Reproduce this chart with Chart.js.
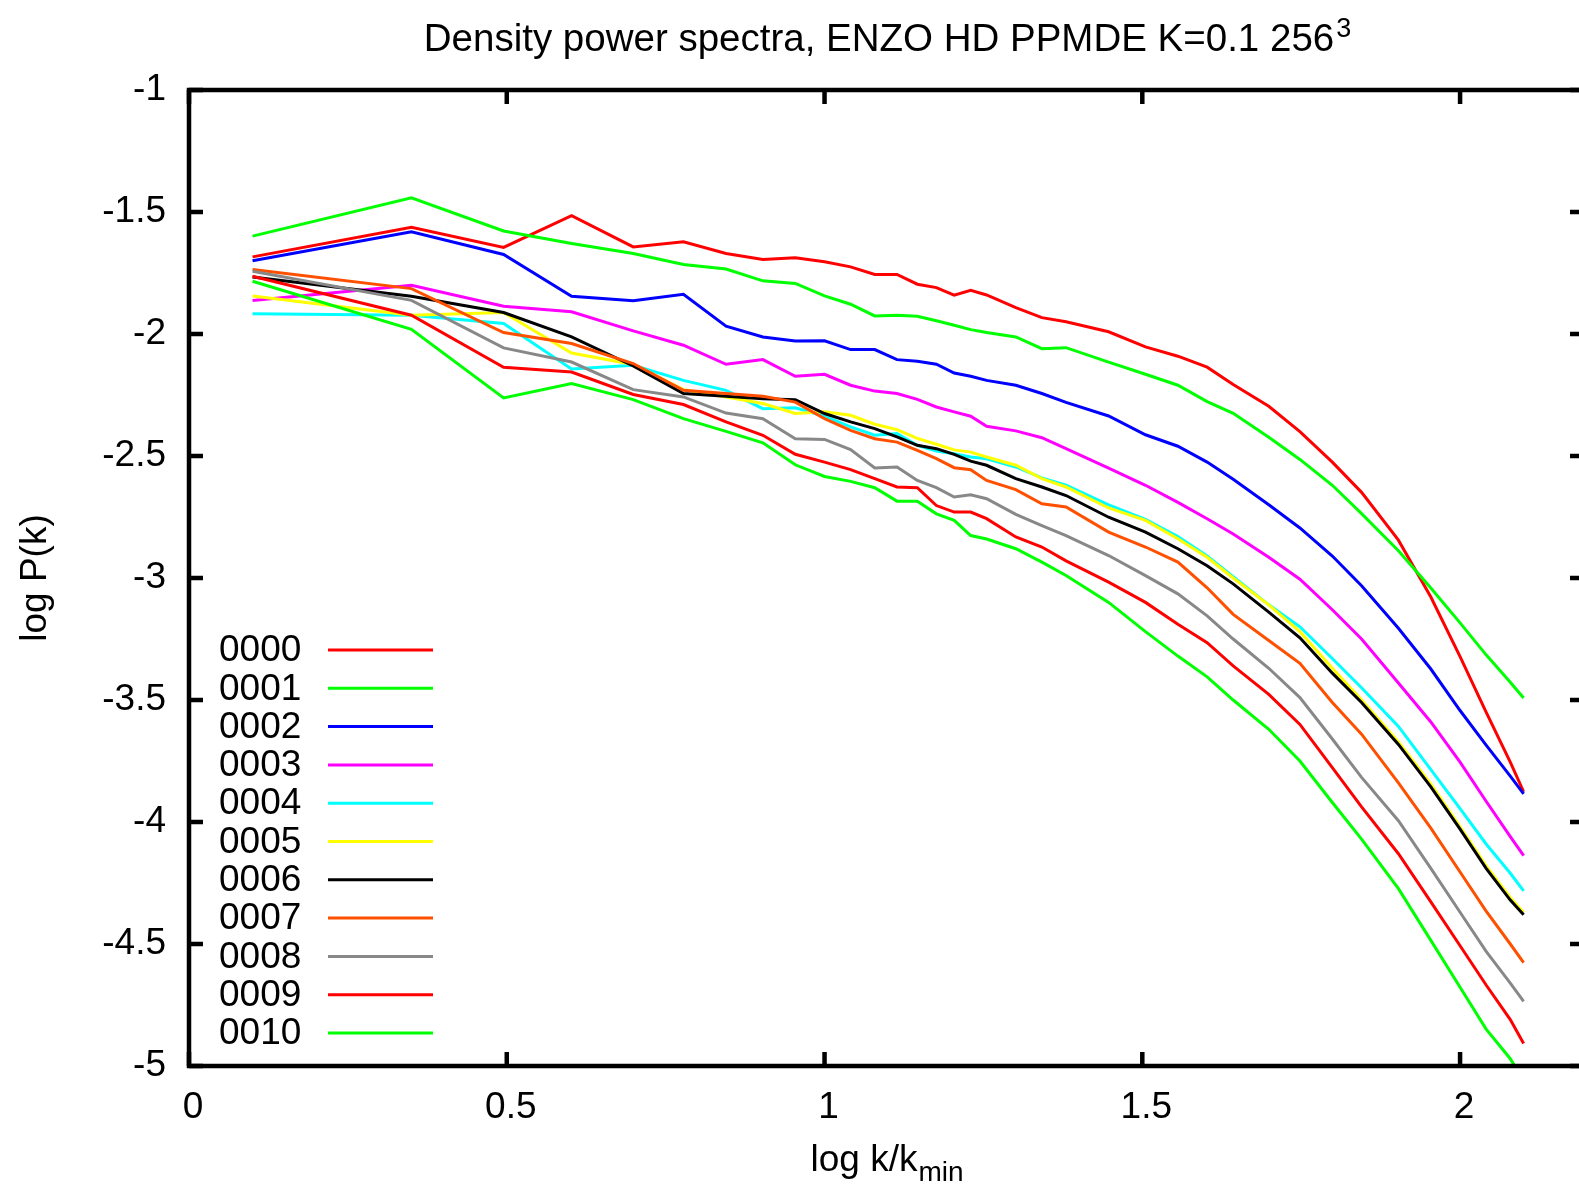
<!DOCTYPE html>
<html lang="en">
<head>
<meta charset="UTF-8">
<title>Density power spectra</title>
<style>
    html, body {
        margin: 0;
        padding: 0;
        background: #fff;
        overflow: hidden;
    }
    #wrap {
        width: 1579px;
        height: 1188px;
        overflow: hidden;
    }
</style>
</head>
<body>
<div id="wrap"><canvas id="chart" width="1600" height="1188"></canvas></div>

<script src="https://cdn.jsdelivr.net/npm/chart.js"></script>
<script>
// log k/kmin for each sample
const logK = [0.1, 0.35, 0.495, 0.602, 0.699, 0.778, 0.845, 0.903, 0.954, 1.0, 1.041, 1.079, 1.114, 1.146, 1.176, 1.204, 1.230, 1.255,
              1.301, 1.342, 1.380, 1.447, 1.505, 1.556, 1.602, 1.643, 1.699, 1.748, 1.799, 1.845, 1.903, 1.954, 2.0, 2.041, 2.079, 2.1];

// log P(k), one array per output dump
const p0000 = [-1.684, -1.563, -1.645, -1.515, -1.643, -1.622, -1.670, -1.695, -1.688, -1.704, -1.725, -1.756, -1.756, -1.796, -1.810, -1.841, -1.821, -1.840,
               -1.892, -1.933, -1.950, -1.991, -2.053, -2.091, -2.136, -2.207, -2.296, -2.400, -2.525, -2.649, -2.845, -3.078, -3.322, -3.550, -3.755, -3.876];
const p0001 = [-1.599, -1.442, -1.578, -1.629, -1.670, -1.715, -1.734, -1.782, -1.793, -1.844, -1.878, -1.926, -1.923, -1.927, -1.946, -1.964, -1.982, -1.994,
               -2.012, -2.060, -2.056, -2.115, -2.165, -2.210, -2.277, -2.325, -2.423, -2.514, -2.620, -2.736, -2.888, -3.041, -3.184, -3.315, -3.427, -3.492];
const p0002 = [-1.700, -1.581, -1.674, -1.845, -1.864, -1.837, -1.968, -2.012, -2.029, -2.028, -2.064, -2.064, -2.105, -2.112, -2.124, -2.160, -2.173, -2.190,
               -2.210, -2.244, -2.280, -2.336, -2.413, -2.460, -2.525, -2.595, -2.700, -2.795, -2.910, -3.032, -3.206, -3.373, -3.543, -3.685, -3.812, -3.885];
const p0003 = [-1.863, -1.800, -1.886, -1.909, -1.987, -2.046, -2.124, -2.105, -2.173, -2.165, -2.210, -2.234, -2.244, -2.268, -2.299, -2.319, -2.337, -2.378,
               -2.397, -2.425, -2.470, -2.550, -2.620, -2.690, -2.757, -2.820, -2.915, -3.005, -3.130, -3.250, -3.430, -3.590, -3.755, -3.915, -4.060, -4.138];
const p0004 = [-1.917, -1.923, -1.957, -2.143, -2.128, -2.190, -2.231, -2.306, -2.302, -2.337, -2.381, -2.415, -2.408, -2.456, -2.480, -2.491, -2.504, -2.511,
               -2.545, -2.590, -2.620, -2.700, -2.760, -2.830, -2.910, -2.995, -3.110, -3.200, -3.330, -3.450, -3.608, -3.785, -3.945, -4.090, -4.210, -4.282];
const p0005 = [-1.844, -1.923, -1.912, -2.078, -2.125, -2.228, -2.258, -2.285, -2.326, -2.319, -2.333, -2.370, -2.392, -2.428, -2.452, -2.475, -2.484, -2.504,
               -2.538, -2.593, -2.627, -2.713, -2.764, -2.839, -2.915, -3.000, -3.110, -3.220, -3.370, -3.500, -3.672, -3.845, -4.020, -4.180, -4.310, -4.371];
const p0006 = [-1.766, -1.845, -1.912, -2.012, -2.131, -2.244, -2.255, -2.265, -2.269, -2.326, -2.360, -2.388, -2.422, -2.456, -2.470, -2.493, -2.521, -2.538,
               -2.593, -2.627, -2.662, -2.751, -2.812, -2.880, -2.950, -3.024, -3.140, -3.245, -3.390, -3.510, -3.682, -3.856, -4.029, -4.190, -4.320, -4.380];
const p0007 = [-1.736, -1.814, -1.994, -2.039, -2.121, -2.231, -2.244, -2.255, -2.279, -2.347, -2.395, -2.429, -2.443, -2.477, -2.511, -2.548, -2.556, -2.600,
               -2.638, -2.696, -2.709, -2.812, -2.873, -2.935, -3.040, -3.149, -3.256, -3.350, -3.510, -3.640, -3.840, -4.025, -4.205, -4.365, -4.500, -4.576];
const p0008 = [-1.743, -1.862, -2.057, -2.115, -2.228, -2.258, -2.324, -2.347, -2.429, -2.432, -2.474, -2.549, -2.545, -2.600, -2.630, -2.668, -2.659, -2.675,
               -2.739, -2.785, -2.826, -2.908, -2.990, -3.065, -3.155, -3.250, -3.370, -3.490, -3.660, -3.817, -3.995, -4.190, -4.370, -4.530, -4.660, -4.735];
const p0009 = [-1.763, -1.923, -2.136, -2.156, -2.248, -2.289, -2.360, -2.415, -2.493, -2.525, -2.556, -2.593, -2.627, -2.630, -2.703, -2.730, -2.730, -2.757,
               -2.832, -2.873, -2.930, -3.017, -3.100, -3.190, -3.265, -3.360, -3.477, -3.600, -3.777, -3.938, -4.130, -4.327, -4.507, -4.668, -4.810, -4.908];
const p0010 = [-1.784, -1.981, -2.262, -2.203, -2.269, -2.347, -2.399, -2.446, -2.536, -2.584, -2.604, -2.630, -2.685, -2.685, -2.737, -2.764, -2.826, -2.840,
               -2.880, -2.935, -2.990, -3.100, -3.220, -3.320, -3.405, -3.500, -3.620, -3.750, -3.920, -4.070, -4.273, -4.485, -4.677, -4.849, -4.970, -5.060];

const labels = ['0000', '0001', '0002', '0003', '0004', '0005', '0006', '0007', '0008', '0009', '0010'];
const series = [p0000, p0001, p0002, p0003, p0004, p0005, p0006, p0007, p0008, p0009, p0010];
const colors = ['#ff0000', '#00ff00', '#0000ff', '#ff00ff', '#00ffff', '#ffff00', '#000000', '#ff5000', '#888888', '#ff0000', '#00ff00'];

const xTicks = [0, 0.5, 1, 1.5, 2];
const yTicks = [-1, -1.5, -2, -2.5, -3, -3.5, -4, -4.5, -5];

const FONT = '"Liberation Sans", Arial, sans-serif';

// gnuplot style frame, inward ticks, key, title and axis labels
const gnuplotLook = {
    id: 'gnuplotLook',
    afterDatasetsDraw(chart) {
        const ctx = chart.ctx;
        const a = chart.chartArea;
        const x = chart.scales.x;
        const y = chart.scales.y;

        ctx.save();
        ctx.strokeStyle = '#000';
        ctx.lineWidth = 4.5;
        ctx.beginPath();
        xTicks.forEach(v => {
            const px = x.getPixelForValue(v);
            ctx.moveTo(px, a.bottom); ctx.lineTo(px, a.bottom - 14);
            ctx.moveTo(px, a.top); ctx.lineTo(px, a.top + 14);
        });
        yTicks.forEach(v => {
            const py = y.getPixelForValue(v);
            ctx.moveTo(a.left, py); ctx.lineTo(a.left + 14, py);
            ctx.moveTo(a.right, py); ctx.lineTo(a.right - 14, py);
        });
        ctx.stroke();
        ctx.strokeRect(a.left, a.top, a.right - a.left, a.bottom - a.top);

        // key
        ctx.font = '37px ' + FONT;
        ctx.fillStyle = '#000';
        ctx.textBaseline = 'middle';
        ctx.textAlign = 'left';
        chart.data.datasets.forEach((ds, i) => {
            const ry = 650 + i * 38.3;
            ctx.fillText(ds.label, 219, ry + 1);
            ctx.strokeStyle = ds.borderColor;
            ctx.lineWidth = 3;
            ctx.beginPath();
            ctx.moveTo(328, ry);
            ctx.lineTo(433, ry);
            ctx.stroke();
        });

        // title with superscript
        const cx = (a.left + a.right) / 2;
        ctx.textBaseline = 'alphabetic';
        ctx.font = '38.5px ' + FONT;
        const main = 'Density power spectra, ENZO HD PPMDE K=0.1 256';
        const wMain = ctx.measureText(main).width;
        ctx.font = '27px ' + FONT;
        const wSup = ctx.measureText('3').width;
        let sx = cx - (wMain + wSup) / 2;
        ctx.font = '38.5px ' + FONT;
        ctx.fillText(main, sx, 51);
        ctx.font = '27px ' + FONT;
        ctx.fillText('3', sx + wMain + 2, 37);

        // x label with subscript
        ctx.font = '37px ' + FONT;
        const xl = 'log k/k';
        const wX = ctx.measureText(xl).width;
        ctx.font = '28px ' + FONT;
        const wSub = ctx.measureText('min').width;
        sx = cx - (wX + wSub) / 2;
        ctx.font = '37px ' + FONT;
        ctx.fillText(xl, sx, 1171);
        ctx.font = '28px ' + FONT;
        ctx.fillText('min', sx + wX + 1, 1181);

        // y label
        ctx.translate(36, (a.top + a.bottom) / 2);
        ctx.rotate(-Math.PI / 2);
        ctx.font = '37px ' + FONT;
        ctx.textAlign = 'center';
        ctx.textBaseline = 'middle';
        ctx.fillText('log P(k)', 0, 0);
        ctx.restore();
    }
};

const datasets = labels.map((lab, i) => ({
    label: lab,
    data: logK.map((k, j) => ({ x: k, y: series[i][j] })),
    borderColor: colors[i],
    backgroundColor: colors[i],
    borderWidth: 3,
    pointRadius: 0,
    fill: false,
    tension: 0,
    order: labels.length - i
}));

new Chart(document.getElementById('chart'), {
    type: 'line',
    data: { datasets: datasets },
    options: {
        responsive: false,
        animation: false,
        devicePixelRatio: 1,
        layout: { padding: { top: 90, right: 16, left: 0, bottom: 0 } },
        plugins: {
            legend: { display: false },
            tooltip: { enabled: false }
        },
        scales: {
            x: {
                type: 'linear',
                min: 0,
                max: 2.195,
                grid: { display: false },
                border: { display: false },
                afterBuildTicks: s => { s.ticks = xTicks.map(v => ({ value: v })); },
                afterFit: s => { s.height = 122; },
                ticks: {
                    color: '#000',
                    padding: 12,
                    labelOffset: 4,
                    maxRotation: 0,
                    font: { family: FONT, size: 37 },
                    callback: v => String(v)
                }
            },
            y: {
                type: 'linear',
                min: -5,
                max: -1,
                grid: { display: false },
                border: { display: false },
                afterBuildTicks: s => { s.ticks = yTicks.map(v => ({ value: v })); },
                afterFit: s => { s.width = 189; },
                ticks: {
                    color: '#000',
                    padding: 15,
                    font: { family: FONT, size: 37 },
                    callback: v => String(v)
                }
            }
        }
    },
    plugins: [gnuplotLook]
});
</script>
</body>
</html>
